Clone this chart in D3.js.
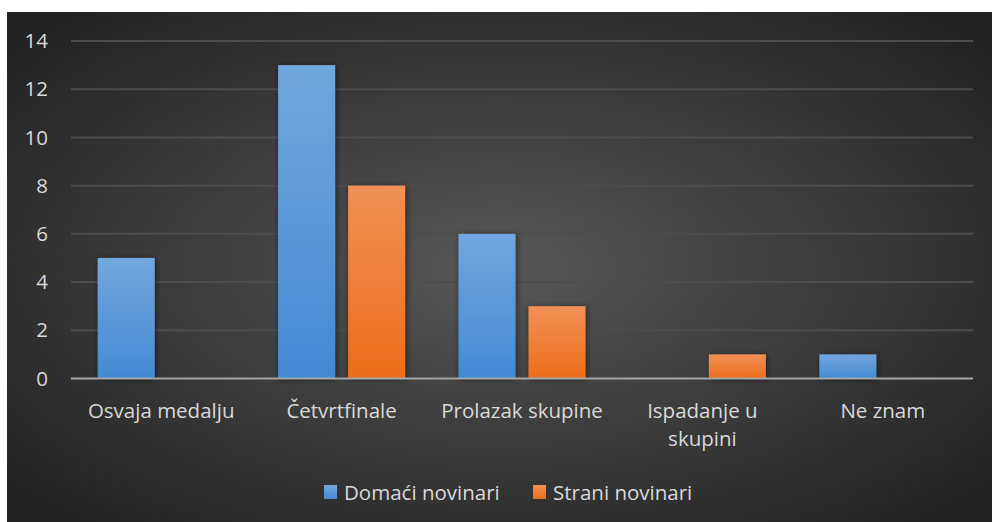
<!DOCTYPE html>
<html>
<head>
<meta charset="utf-8">
<script src="https://cdn.jsdelivr.net/npm/d3@7"></script>
<style>
  body { margin: 0; background: #fff; }
  svg { display: block; }
  text { font-family: "Open Sans", Lato, sans-serif; fill: #d9d9d9; }
</style>
</head>
<body>
<svg></svg>
<script>
var width = 992;
var height = 522;

var categories = ["Osvaja medalju", "Četvrtfinale", "Prolazak skupine", "Ispadanje u skupini", "Ne znam"];
var seriesNames = ["Domaći novinari", "Strani novinari"];
var domaci = [5, 13, 6, 0, 1];
var strani = [0, 8, 3, 1, 0];
var yTicks = [0, 2, 4, 6, 8, 10, 12, 14];

var series = [domaci, strani];
var gradIds = ["gradBlue", "gradOrange"];
var fontSize = "20.5px";

var svg = d3.select("svg")
    .attr("width", width)
    .attr("height", height);

var defs = svg.append("defs");

// background: dark with lighter centre
var bg = defs.append("radialGradient")
    .attr("id", "bg")
    .attr("cx", "50%").attr("cy", "50%").attr("r", "65%");
bg.append("stop").attr("offset", "0%").attr("stop-color", "#575757");
bg.append("stop").attr("offset", "100%").attr("stop-color", "#232323");

var gb = defs.append("linearGradient").attr("id", "gradBlue")
    .attr("x1", 0).attr("y1", 0).attr("x2", 0).attr("y2", 1);
gb.append("stop").attr("offset", "0%").attr("stop-color", "#72a7de");
gb.append("stop").attr("offset", "100%").attr("stop-color", "#438ad3");

var go = defs.append("linearGradient").attr("id", "gradOrange")
    .attr("x1", 0).attr("y1", 0).attr("x2", 0).attr("y2", 1);
go.append("stop").attr("offset", "0%").attr("stop-color", "#f29056");
go.append("stop").attr("offset", "100%").attr("stop-color", "#ec6d1a");

var shadow = defs.append("filter").attr("id", "shadow")
    .attr("x", "-30%").attr("y", "-30%").attr("width", "160%").attr("height", "160%");
shadow.append("feDropShadow")
    .attr("dx", 1).attr("dy", 1).attr("stdDeviation", 3)
    .attr("flood-color", "#000").attr("flood-opacity", 0.55);

svg.append("rect")
    .attr("x", 7).attr("y", 12)
    .attr("width", width - 7).attr("height", height - 12)
    .attr("fill", "url(#bg)");

var plot = { left: 71, right: 973, top: 41, bottom: 378.5 };

var x = d3.scaleBand()
    .domain(categories)
    .range([plot.left, plot.right]);

var y = d3.scaleLinear()
    .domain([0, 14])
    .range([plot.bottom, plot.top]);

var barW = 57, barGap = 13;

// gridlines
svg.append("g")
    .selectAll("line")
    .data(yTicks.filter(function(d) { return d > 0; }))
    .enter().append("line")
    .attr("x1", plot.left).attr("x2", plot.right)
    .attr("y1", function(d) { return y(d); })
    .attr("y2", function(d) { return y(d); })
    .attr("stroke", "#4d4d4d")
    .attr("stroke-width", 2);

// y tick labels
svg.append("g")
    .selectAll("text")
    .data(yTicks)
    .enter().append("text")
    .attr("x", 48)
    .attr("y", function(d) { return y(d); })
    .attr("dy", "0.35em")
    .attr("text-anchor", "end")
    .style("font-size", fontSize)
    .text(function(d) { return d; });

// bars
series.forEach(function(vals, s) {
  svg.append("g")
      .selectAll("rect")
      .data(vals.map(function(v, i) { return { cat: categories[i], value: v }; })
                .filter(function(d) { return d.value > 0; }))
      .enter().append("rect")
      .attr("x", function(d) {
        var c = x(d.cat) + x.bandwidth() / 2;
        return c - (barW * 2 + barGap) / 2 + s * (barW + barGap);
      })
      .attr("y", function(d) { return y(d.value); })
      .attr("width", barW)
      .attr("height", function(d) { return y(0) - y(d.value); })
      .attr("fill", "url(#" + gradIds[s] + ")")
      .attr("filter", "url(#shadow)");
});

// axis line
svg.append("line")
    .attr("x1", plot.left).attr("x2", plot.right)
    .attr("y1", y(0)).attr("y2", y(0))
    .attr("stroke", "#a6a6a6")
    .attr("stroke-width", 2);

// category labels, wrapped
var catText = svg.append("g")
    .selectAll("text")
    .data(categories)
    .enter().append("text")
    .attr("x", function(d) { return x(d) + x.bandwidth() / 2; })
    .attr("y", 418)
    .attr("text-anchor", "middle")
    .style("font-size", fontSize);

catText.each(function(d) {
  var t = d3.select(this);
  var words = d.split(" ");
  var line = [];
  var lines = [];
  var probe = t.append("tspan");
  words.forEach(function(w) {
    line.push(w);
    probe.text(line.join(" "));
    if (probe.node().getComputedTextLength() > 172 && line.length > 1) {
      line.pop();
      lines.push(line.join(" "));
      line = [w];
    }
  });
  lines.push(line.join(" "));
  probe.remove();
  lines.forEach(function(l, i) {
    t.append("tspan")
        .attr("x", t.attr("x"))
        .attr("dy", i === 0 ? 0 : 28)
        .text(l);
  });
});

// legend
var legendItems = [
  { name: seriesNames[0], grad: gradIds[0], x: 324 },
  { name: seriesNames[1], grad: gradIds[1], x: 533 }
];
var legend = svg.append("g")
    .selectAll("g")
    .data(legendItems)
    .enter().append("g")
    .attr("transform", function(d) { return "translate(" + d.x + ",485)"; });
legend.append("rect")
    .attr("width", 13).attr("height", 14)
    .attr("fill", function(d) { return "url(#" + d.grad + ")"; });
legend.append("text")
    .attr("x", 20)
    .attr("y", 15)
    .style("font-size", fontSize)
    .text(function(d) { return d.name; });
</script>
</body>
</html>
